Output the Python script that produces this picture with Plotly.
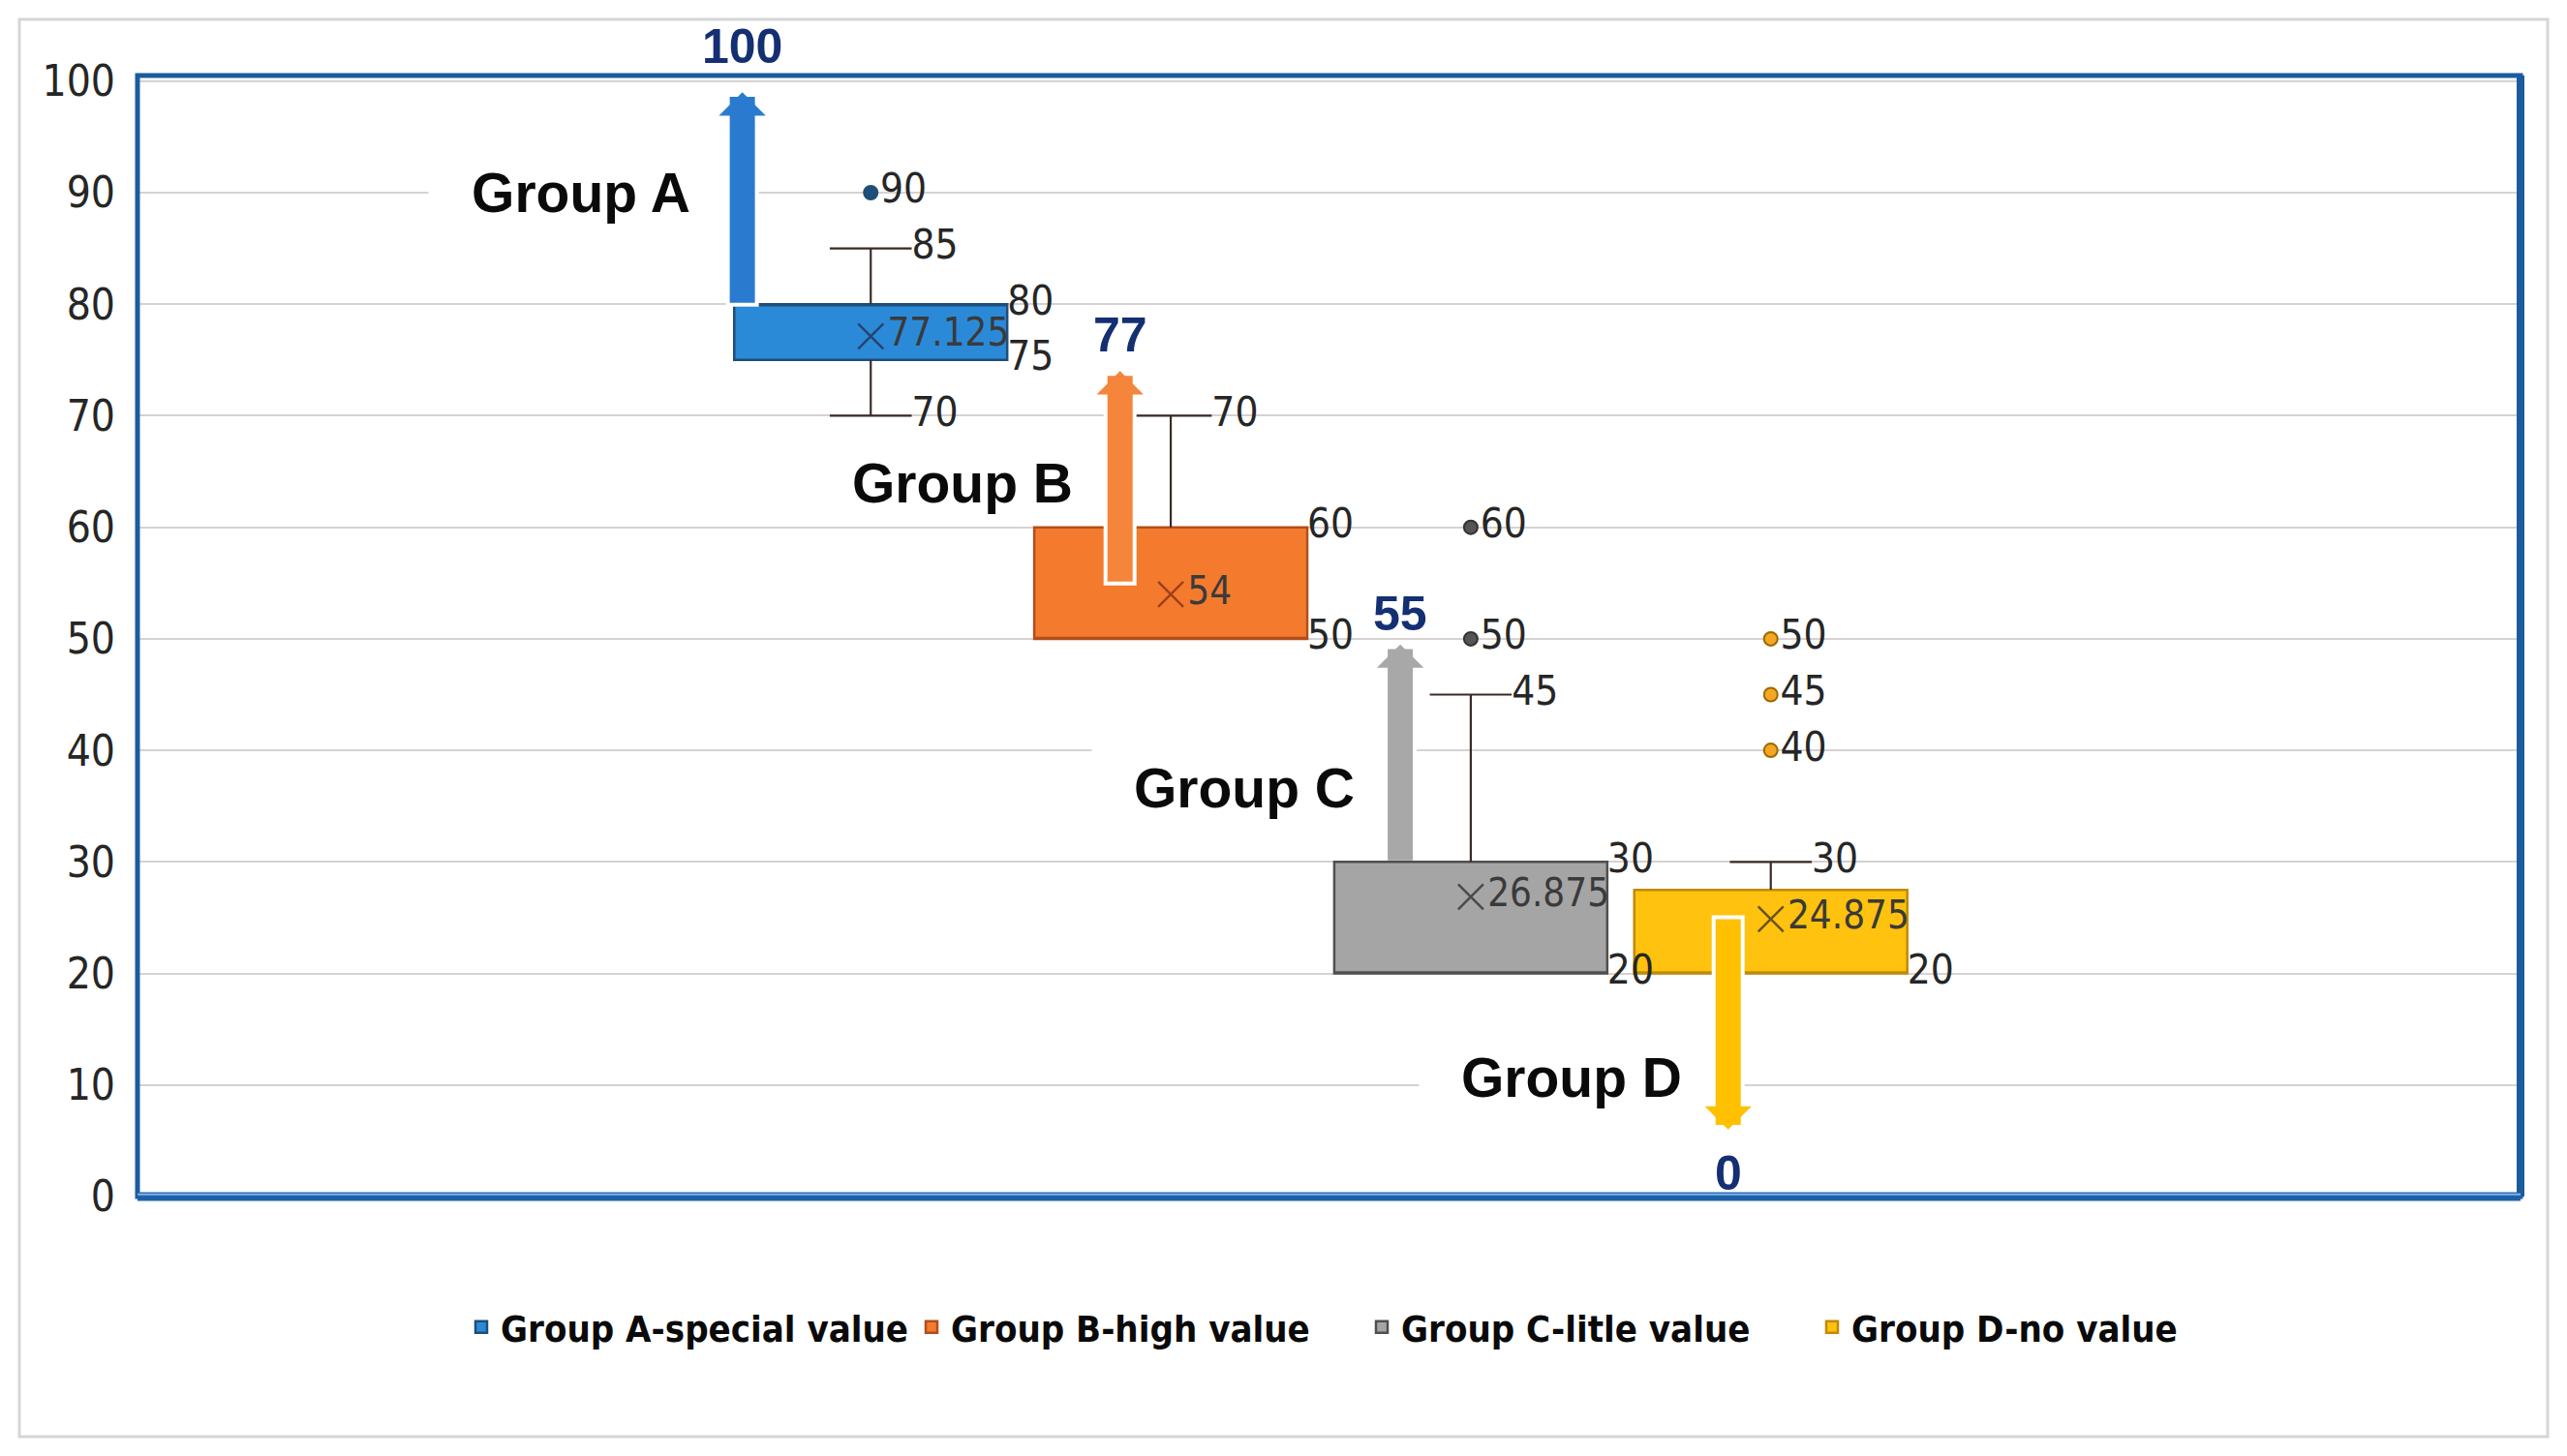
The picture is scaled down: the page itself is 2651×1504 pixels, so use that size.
import plotly.graph_objects as go

# ---------------- data ----------------
groups = ["Group A", "Group B", "Group C", "Group D"]
legend_names = ["Group A-special value", "Group B-high value",
                "Group C-litle value", "Group D-no value"]
q1 = [75, 50, 20, 20]
medians = [80, 50, 20, 20]
q3 = [80, 60, 30, 27.5]
lower_fence = [70, 50, 20, 20]
upper_fence = [85, 70, 45, 30]
means = [77.125, 54, 26.875, 24.875]
outliers = [[90], [], [50, 60], [40, 45, 50]]
q3_labelled = [True, True, True, False]
arrow_start = [80, 55, 30, 25]
arrow_end = [99, 74, 49.5, 6]
arrow_values = ["100", "77", "55", "0"]
y_ticks = [0, 10, 20, 30, 40, 50, 60, 70, 80, 90, 100]

# ---------------- style / layout constants ----------------
W, H = 2651, 1504
ML, MR, MT, MB = 142, 48, 78, 268
PW, PH = W - ML - MR, H - MT - MB
X_RANGE = [-2.444, 5.499]
Y_RANGE = [0, 100.5]
BOX_WIDTH = 0.91
WHISKER_FRAC = 0.3
ARROW_DX = [-0.428, -0.169, -0.235, -0.142]
ARROW_BASE_OUTLINE = [True, True, False, True]
VALUE_LABEL_SHIFT = [17, 7, 2, -15]
GROUP_LABEL_POS = [(-0.966, 90), (-0.694, 64.0), (-0.756, 36.6), (-0.665, 10.7)]

fill_colors = ["#2B8AD8", "#F47B2E", "#A5A5A5", "#FFC20E"]
line_colors = ["#1F4E79", "#B24E1C", "#4F4F4F", "#C28A0A"]
WHISKER_COLOR = "#3A2A26"
arrow_colors = ["#2A7BD0", "#F5853A", "#A8A8A8", "#FFC000"]
mean_colors = ["#24456E", "#A0401A", "#4A4A4A", "#6A5020"]
outlier_fill = ["#1F4E79", None, "#555555", "#F5A623"]
outlier_line = ["#1F4E79", None, "#333333", "#9A6A00"]
NAVY = "#142F72"
TXT = "#262626"
NARROW = "DejaVu Sans Condensed, Liberation Sans Narrow, Arial Narrow, sans-serif"
SANS = "Liberation Sans, Arial, sans-serif"
LABEL_SIZE = 42

positions = list(range(len(groups)))

fig = go.Figure()

# whiskers (drawn under the boxes)
wx, wy = [], []
for i in positions:
    c = positions[i]
    half = BOX_WIDTH * WHISKER_FRAC / 2
    if upper_fence[i] > q3[i]:
        wx += [c, c, None, c - half, c + half, None]
        wy += [q3[i], upper_fence[i], None, upper_fence[i], upper_fence[i], None]
    if lower_fence[i] < q1[i]:
        wx += [c, c, None, c - half, c + half, None]
        wy += [q1[i], lower_fence[i], None, lower_fence[i], lower_fence[i], None]
fig.add_trace(go.Scatter(
    x=wx, y=wy, mode="lines", line=dict(color=WHISKER_COLOR, width=2.2),
    showlegend=False, hoverinfo="skip",
))

# boxes
for i, g in enumerate(groups):
    fig.add_trace(go.Box(
        x=[positions[i]], q1=[q1[i]], median=[medians[i]], q3=[q3[i]],
        lowerfence=[q1[i]], upperfence=[q3[i]],
        name=legend_names[i], width=BOX_WIDTH, whiskerwidth=0,
        fillcolor=fill_colors[i], line=dict(color=line_colors[i], width=2.5),
        boxpoints=False, hoverinfo="skip",
    ))

# mean markers with labels
fig.add_trace(go.Scatter(
    x=positions, y=means, mode="markers+text",
    text=[f"{m:g}" for m in means], textposition="middle right",
    textfont=dict(family=NARROW, size=40, color="#3A3A3A"),
    marker=dict(symbol="x-thin", size=26,
                line=dict(width=2.5, color=mean_colors)),
    showlegend=False, hoverinfo="skip", cliponaxis=False,
))

# outliers with labels
ox, oy, oc, ol = [], [], [], []
for i, pts in enumerate(outliers):
    for v in pts:
        ox.append(positions[i])
        oy.append(v)
        oc.append(outlier_fill[i])
        ol.append(outlier_line[i])
fig.add_trace(go.Scatter(
    x=ox, y=oy, mode="markers+text", text=[f"{v:g}" for v in oy],
    textposition="middle right",
    textfont=dict(family=NARROW, size=LABEL_SIZE, color=TXT),
    marker=dict(symbol="circle", size=14, color=oc, line=dict(width=2, color=ol)),
    showlegend=False, hoverinfo="skip", cliponaxis=False,
))

# quartile and whisker labels
lx, ly = [], []
for i in positions:
    edge = positions[i] + BOX_WIDTH / 2
    cap = positions[i] + BOX_WIDTH * WHISKER_FRAC / 2
    if q3_labelled[i]:
        lx.append(edge); ly.append(q3[i])
    lx.append(edge); ly.append(q1[i])
    if upper_fence[i] > q3[i]:
        lx.append(cap); ly.append(upper_fence[i])
    if lower_fence[i] < q1[i]:
        lx.append(cap); ly.append(lower_fence[i])
fig.add_trace(go.Scatter(
    x=lx, y=ly, mode="text", text=[f"{v:g}" for v in ly],
    textposition="middle right",
    textfont=dict(family=NARROW, size=LABEL_SIZE, color=TXT),
    showlegend=False, hoverinfo="skip", cliponaxis=False,
))

annotations = []
# group names with white backgrounds
for i, g in enumerate(groups):
    dx, yy = GROUP_LABEL_POS[i]
    annotations.append(dict(
        x=positions[i] + dx, y=yy, xref="x", yref="y", text=f"<b>{g}</b>",
        showarrow=False, font=dict(family=SANS, size=57, color="#0A0A0A"),
        bgcolor="white", borderpad=9, width=296,
    ))
# arrows: white outline then coloured arrow
for i in positions:
    xa = positions[i] + ARROW_DX[i]
    up = 1 if arrow_end[i] > arrow_start[i] else -1
    base_ext = 0.35 if ARROW_BASE_OUTLINE[i] else 0.0
    annotations.append(dict(
        x=xa, y=arrow_end[i] + 0.45 * up, ax=xa, ay=arrow_start[i] - base_ext * up,
        xref="x", yref="y", axref="x", ayref="y", text="", showarrow=True,
        arrowhead=1, arrowsize=0.3, arrowwidth=34, arrowcolor="white", standoff=0,
    ))
    annotations.append(dict(
        x=xa, y=arrow_end[i], ax=xa, ay=arrow_start[i],
        xref="x", yref="y", axref="x", ayref="y", text="", showarrow=True,
        arrowhead=1, arrowsize=0.31, arrowwidth=26, arrowcolor=arrow_colors[i],
        standoff=0,
    ))
    annotations.append(dict(
        x=xa, y=arrow_end[i], xref="x", yref="y", text=f"<b>{arrow_values[i]}</b>",
        showarrow=False, font=dict(family=SANS, size=50, color=NAVY),
        yanchor="bottom" if up > 0 else "top", yshift=VALUE_LABEL_SHIFT[i],
    ))

def px_x(p):
    return (p - ML) / PW

def px_y(p):
    return (H - MB - p) / PH

shapes = [
    # outer light frame
    dict(type="rect", xref="paper", yref="paper", x0=px_x(20), x1=px_x(2631),
         y0=px_y(1484), y1=px_y(20), line=dict(color="#D6D6D6", width=3), layer="below"),
    # plot frame
    dict(type="rect", xref="paper", yref="paper", x0=0, x1=1, y0=0, y1=1,
         line=dict(color="#1B5C9E", width=5), layer="above"),
    dict(type="line", xref="paper", yref="paper", x0=1, x1=1, y0=0, y1=1,
         line=dict(color="#1B5C9E", width=8), layer="above"),
    dict(type="line", xref="paper", yref="paper", x0=0, x1=1, y0=0, y1=0,
         line=dict(color="#1F5FA8", width=9), layer="above"),
    dict(type="line", xref="paper", yref="paper", x0=0, x1=1, y0=0.002, y1=0.002,
         line=dict(color="#7FB2E5", width=2), layer="above"),
]

fig.update_layout(
    width=W, height=H, autosize=False,
    margin=dict(l=ML, r=MR, t=MT, b=MB),
    paper_bgcolor="white", plot_bgcolor="white",
    boxmode="overlay",
    xaxis=dict(range=X_RANGE, showgrid=False, zeroline=False, showticklabels=False,
               showline=False, fixedrange=True),
    yaxis=dict(range=Y_RANGE, tickvals=y_ticks, ticktext=[str(t) for t in y_ticks],
               showgrid=True, gridcolor="#D8D1D1", gridwidth=2, zeroline=False,
               showline=False, ticks="", ticklabelstandoff=22,
               tickfont=dict(family=NARROW, size=44, color=TXT), fixedrange=True),
    legend=dict(orientation="h", x=px_x(477), xanchor="left", y=px_y(1371), yanchor="middle",
                entrywidth=420, entrywidthmode="pixels",
                font=dict(family=NARROW, size=38, color="#0A0A0A", weight="bold"),
                itemclick=False, itemdoubleclick=False),
    annotations=annotations,
    shapes=shapes,
    showlegend=True,
)

fig.write_html("out.html", config={"displayModeBar": False},
               post_script="document.body.style.margin='0';document.body.style.overflow='hidden';")
